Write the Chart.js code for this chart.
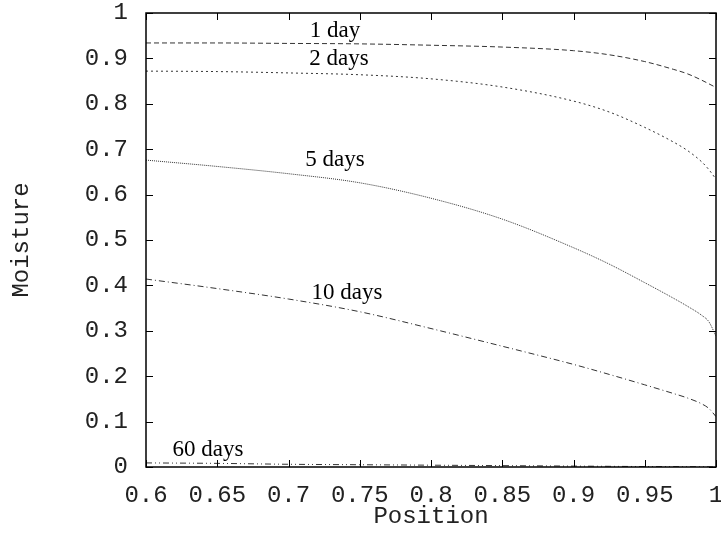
<!DOCTYPE html>
<html>
<head>
<meta charset="utf-8">
<script src="https://cdn.jsdelivr.net/npm/chart.js@4.4.1/dist/chart.umd.min.js"></script>
<style>
    html, body { margin: 0; padding: 0; background: #fff; }
    #wrap { width: 721px; height: 533px; }
</style>
</head>
<body>
<div id="wrap"><canvas id="moistureChart"></canvas></div>
<script>
// positions along the sample
const positions = [0.6, 0.65, 0.7, 0.75, 0.8, 0.85, 0.9, 0.925, 0.95, 0.97, 0.98, 0.99, 0.995, 1.0];

// moisture profiles
const day1 = [0.934, 0.934, 0.933, 0.932, 0.929, 0.925, 0.917, 0.908, 0.893, 0.876, 0.866, 0.852, 0.844, 0.836];
const day2 = [0.872, 0.871, 0.868, 0.864, 0.855, 0.837, 0.806, 0.782, 0.748, 0.716, 0.697, 0.672, 0.655, 0.634];
const day5 = [0.676, 0.662, 0.646, 0.626, 0.592, 0.546, 0.483, 0.447, 0.406, 0.372, 0.354, 0.334, 0.320, 0.288];
const day10 = [0.414, 0.393, 0.370, 0.342, 0.305, 0.266, 0.226, 0.204, 0.181, 0.162, 0.152, 0.139, 0.129, 0.111];
const day60 = [0.009, 0.008, 0.006, 0.005, 0.004, 0.003, 0.002, 0.0015, 0.001, 0.0008, 0.0006, 0.0005, 0.0003, 0.0];

const seriesNames = ['1 day', '2 days', '5 days', '10 days', '60 days'];
const seriesValues = [day1, day2, day5, day10, day60];
const dashes = [[5, 3], [2, 3], [1, 1], [6, 3, 1, 3], [6, 3, 1, 3, 1, 3]];

// where the curve names sit, in data units (x, baseline y)
const labelX = [0.7326, 0.7354, 0.7326, 0.741, 0.6435];
const labelY = [0.947, 0.885, 0.663, 0.370, 0.024];

const monoFont = "'Liberation Mono', 'Courier New', monospace";
const serifFont = "'Liberation Serif', 'Times New Roman', serif";

const datasets = seriesNames.map(function (name, i) {
    return {
        label: name,
        data: positions.map((x, j) => ({x: x, y: seriesValues[i][j]})),
        borderColor: '#333',
        borderWidth: 1,
        borderDash: dashes[i],
        pointRadius: 0,
        fill: false,
        cubicInterpolationMode: 'monotone'
    };
});

// gnuplot style numbers: 0.6, 0.65, 1
function shortNumber(value) {
    return String(Number(value.toFixed(2)));
}

// frame, inward ticks on all sides and curve names
const framePlugin = {
    id: 'frame',
    afterDraw(chart) {
        const ctx = chart.ctx;
        const area = chart.chartArea;
        const xs = chart.scales.x;
        const ys = chart.scales.y;
        const tick = 7;

        ctx.save();
        ctx.strokeStyle = '#000';
        ctx.lineWidth = 1;
        ctx.beginPath();
        xs.ticks.forEach(function (t) {
            const px = Math.round(xs.getPixelForValue(t.value)) + 0.5;
            ctx.moveTo(px, area.bottom);
            ctx.lineTo(px, area.bottom - tick);
            ctx.moveTo(px, area.top);
            ctx.lineTo(px, area.top + tick);
        });
        ys.ticks.forEach(function (t) {
            const py = Math.round(ys.getPixelForValue(t.value)) + 0.5;
            ctx.moveTo(area.left, py);
            ctx.lineTo(area.left + tick, py);
            ctx.moveTo(area.right, py);
            ctx.lineTo(area.right - tick, py);
        });
        ctx.stroke();

        ctx.lineWidth = 1.5;
        ctx.strokeRect(area.left, area.top, area.right - area.left, area.bottom - area.top);

        ctx.fillStyle = '#000';
        ctx.font = '23px ' + serifFont;
        ctx.textAlign = 'center';
        ctx.textBaseline = 'alphabetic';
        seriesNames.forEach(function (name, i) {
            ctx.fillText(name, xs.getPixelForValue(labelX[i]), ys.getPixelForValue(labelY[i]));
        });
        ctx.restore();
    }
};

const ctx = document.getElementById('moistureChart').getContext('2d');

const moistureChart = new Chart(ctx, {
    type: 'line',
    data: {datasets: datasets},
    options: {
        responsive: true,
        maintainAspectRatio: false,
        animation: false,
        layout: {padding: {top: 13, right: 5, left: 0, bottom: 0}},
        plugins: {
            legend: {display: false},
            tooltip: {enabled: false}
        },
        scales: {
            x: {
                type: 'linear',
                min: 0.6,
                max: 1,
                afterFit: function (scale) {
                    scale.height = 66;
                    scale.paddingLeft = 0;
                    scale.paddingRight = 0;
                },
                ticks: {
                    stepSize: 0.05,
                    padding: 14,
                    maxRotation: 0,
                    color: '#222',
                    font: {family: monoFont, size: 24},
                    callback: shortNumber
                },
                grid: {display: true, drawOnChartArea: false, drawTicks: false},
                border: {display: false},
                title: {
                    display: true,
                    text: 'Position',
                    color: '#222',
                    font: {family: monoFont, size: 24},
                    padding: {top: 0, bottom: 2}
                }
            },
            y: {
                type: 'linear',
                min: 0,
                max: 1,
                afterFit: function (scale) {
                    scale.width = 146;
                    scale.paddingTop = 0;
                    scale.paddingBottom = 0;
                },
                ticks: {
                    stepSize: 0.1,
                    padding: 18,
                    color: '#222',
                    font: {family: monoFont, size: 24},
                    callback: shortNumber
                },
                grid: {display: true, drawOnChartArea: false, drawTicks: false},
                border: {display: false},
                title: {
                    display: true,
                    text: 'Moisture',
                    color: '#222',
                    font: {family: monoFont, size: 24},
                    padding: {top: 7, bottom: 0}
                }
            }
        }
    },
    plugins: [framePlugin]
});
</script>
</body>
</html>
